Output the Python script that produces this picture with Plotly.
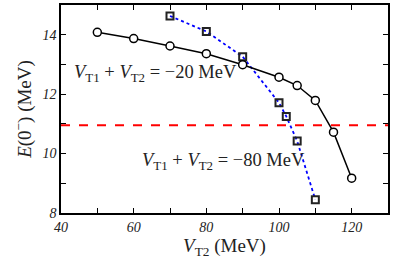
import plotly.graph_objects as go

x_circ = [50, 60, 70, 80, 90, 100, 105, 110, 115, 120]
y_circ = [14.08, 13.87, 13.62, 13.36, 12.99, 12.57, 12.29, 11.79, 10.72, 9.17]
x_sq = [70, 80, 90, 100, 102, 105, 110]
y_sq = [14.63, 14.11, 13.26, 11.71, 11.25, 10.42, 8.45]
y_ref = 10.95
x_range = [40, 130]
y_range = [8, 15]
x_ticks = [40, 60, 80, 100, 120]
x_ticklabels = ["<i>40</i>", "<i>60</i>", "<i>80</i>", "<i>100</i>", "<i>120</i>"]
y_ticks = [8, 10, 12, 14]
y_ticklabels = ["<i>8</i>", "<i>10</i>", "<i>12</i>", "<i>14</i>"]

serif = "Liberation Serif"

fig = go.Figure()
fig.add_trace(go.Scatter(x=x_range, y=[y_ref, y_ref], mode="lines",
                         line=dict(color="#ff0000", width=2, dash="dash"), showlegend=False))
fig.add_trace(go.Scatter(x=x_sq, y=y_sq, mode="lines+markers",
                         line=dict(color="#0000ff", width=1.8, dash="dot"),
                         marker=dict(symbol="square-open", size=7, color="#222222", line=dict(width=2)),
                         showlegend=False))
fig.add_trace(go.Scatter(x=x_circ, y=y_circ, mode="lines+markers",
                         line=dict(color="black", width=1.5),
                         marker=dict(symbol="circle", size=8, color="white", line=dict(width=1.5, color="black")),
                         showlegend=False))

fig.add_annotation(x=65.9, y=12.71, text="<i>V</i><sub>T1</sub> + <i>V</i><sub>T2</sub> = \u221220 MeV",
                   showarrow=False, font=dict(family=serif, size=18.5, color="#222"))
fig.add_annotation(x=84.8, y=9.74, text="<i>V</i><sub>T1</sub> + <i>V</i><sub>T2</sub> = \u221280 MeV",
                   showarrow=False, font=dict(family=serif, size=18.5, color="#222"))

axis_common = dict(showgrid=False, zeroline=False, showline=True, linecolor="black", linewidth=1.5,
                   mirror="ticks", ticks="inside", ticklen=5, tickwidth=1, tickcolor="black",
                   automargin=False,
                   tickfont=dict(family=serif, size=14, color="#222"))
fig.update_xaxes(range=x_range, tickmode="array", tickvals=x_ticks, ticktext=x_ticklabels,
                 minor=dict(tickmode="linear", tick0=40, dtick=10, ticks="inside", ticklen=5,
                            tickwidth=1, tickcolor="black", showgrid=False),
                 title=dict(text="<i>V</i><sub>T2</sub> (MeV)", font=dict(family=serif, size=19, color="#222"), standoff=5),
                 **axis_common)
fig.update_yaxes(range=y_range, tickmode="array", tickvals=y_ticks, ticktext=y_ticklabels,
                 minor=dict(tickmode="linear", tick0=8, dtick=1, ticks="inside", ticklen=5,
                            tickwidth=1, tickcolor="black", showgrid=False),
                 title=dict(text="<i>E</i>(0<sup>\u2212</sup>) (MeV)", font=dict(family=serif, size=19, color="#222"), standoff=6),
                 **axis_common)
fig.update_layout(width=399, height=264, margin=dict(l=61, r=11, t=5, b=51),
                  plot_bgcolor="white", paper_bgcolor="white")
fig.write_html("out.html", config={"displayModeBar": False},
               post_script="document.body.style.margin='0';")
